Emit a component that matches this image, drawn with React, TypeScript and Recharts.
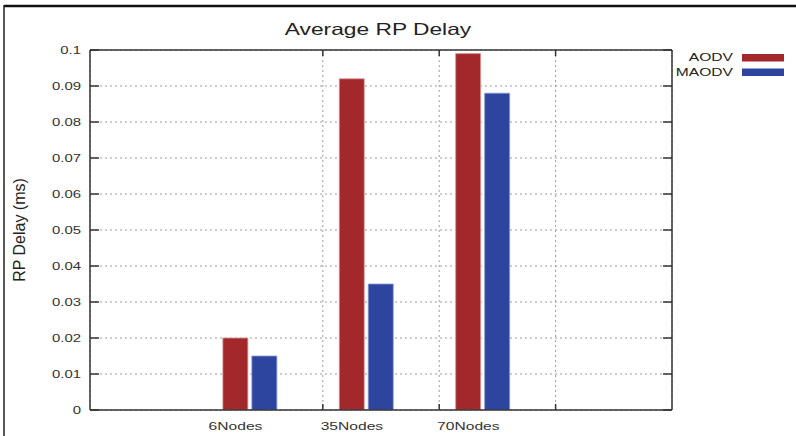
import React from "react";
import { BarChart, Bar, XAxis, YAxis, CartesianGrid, Legend } from "recharts";

// values
const categories = ["6Nodes", "35Nodes", "70Nodes"];
const groupPos = [1.375, 2.375, 3.375];
const labelPos = [1.25, 2.25, 3.25];
const aodv = [0.02, 0.092, 0.099];
const maodv = [0.015, 0.035, 0.088];
const yTicks = [0, 0.01, 0.02, 0.03, 0.04, 0.05, 0.06, 0.07, 0.08, 0.09, 0.1];
const xGridTicks = [2, 3, 4];

const series = [
  { key: "aodv", name: "AODV", color: "#a3282b", edge: "#d69a9b" },
  { key: "maodv", name: "MAODV", color: "#2e459f", edge: "#8a99d2" },
];

const data = categories.map((name, i) => ({
  name,
  x: groupPos[i],
  aodv: aodv[i],
  maodv: maodv[i],
}));

const STRETCH = 1.42;
const FONT = "'Liberation Sans', Arial, sans-serif";

function NoLabel() {
  return <g />;
}

function YTick(props: any) {
  const { x, y, payload } = props;
  return (
    <text
      transform={`translate(${x},${y}) scale(${STRETCH},1)`}
      textAnchor="end"
      dy="0.36em"
      fontSize={10.5}
      fontFamily={FONT}
      fill="#333"
    >
      {String(payload.value)}
    </text>
  );
}

function XLabel(props: any) {
  const { x, y, payload } = props;
  const idx = labelPos.indexOf(payload.value);
  return (
    <text
      transform={`translate(${x},${y + 19}) scale(${STRETCH},1)`}
      textAnchor="middle"
      fontSize={11}
      fontFamily={FONT}
      fill="#333"
    >
      {categories[idx]}
    </text>
  );
}

function LegendBox() {
  return (
    <svg width={136} height={40}>
      {series.map((s, i) => (
        <g key={s.key}>
          <text
            transform={`translate(73,${16 + i * 15}) scale(${STRETCH},1)`}
            textAnchor="end"
            fontSize={11}
            fontFamily={FONT}
            fill="#222"
          >
            {s.name}
          </text>
          <rect x={82} y={9 + i * 14.5} width={42} height={7.5} fill={s.color} />
        </g>
      ))}
    </svg>
  );
}

export default function App() {
  const axisStroke = { stroke: "#333", strokeWidth: 1.5 };
  return (
    <div style={{ position: "fixed", left: 0, top: 0, width: 796, height: 436, background: "#fff" }}>
      <BarChart
        width={796}
        height={436}
        data={data}
        margin={{ top: 49, right: 0, bottom: 0, left: 0 }}
        barSize={25}
        barGap={4}
      >
        <CartesianGrid strokeDasharray="2 3" stroke="#9a9a9a" />
        <XAxis
          dataKey="x"
          type="number"
          domain={[0, 5]}
          ticks={xGridTicks}
          allowDataOverflow
          interval={0}
          tick={<NoLabel />}
          tickSize={-6}
          height={1}
          axisLine={axisStroke}
          tickLine={axisStroke}
        />
        <XAxis
          xAxisId="lbl"
          dataKey="x"
          type="number"
          domain={[0, 5]}
          ticks={labelPos}
          allowDataOverflow
          interval={0}
          axisLine={false}
          tickLine={false}
          tickSize={0}
          tickMargin={0}
          height={25}
          tick={<XLabel />}
        />
        <XAxis
          xAxisId="top"
          orientation="top"
          dataKey="x"
          type="number"
          domain={[0, 5]}
          ticks={xGridTicks}
          allowDataOverflow
          interval={0}
          tick={<NoLabel />}
          tickSize={-6}
          height={1}
          axisLine={axisStroke}
          tickLine={axisStroke}
        />
        <YAxis
          width={90}
          domain={[0, 0.1]}
          ticks={yTicks}
          interval={0}
          allowDataOverflow
          tickSize={-9}
          tickMargin={18}
          axisLine={axisStroke}
          tickLine={axisStroke}
          tick={<YTick />}
        />
        <YAxis
          yAxisId="r"
          orientation="right"
          width={124}
          domain={[0, 0.1]}
          ticks={yTicks}
          interval={0}
          allowDataOverflow
          tick={<NoLabel />}
          tickSize={-9}
          axisLine={axisStroke}
          tickLine={axisStroke}
        />
        <Legend
          layout="horizontal"
          verticalAlign="middle"
          wrapperStyle={{ left: 660, top: 45, width: 136, height: 40 }}
          content={() => <LegendBox />}
        />
        {series.map((s) => (
          <Bar
            key={s.key}
            dataKey={s.key}
            name={s.name}
            fill={s.color}
            stroke={s.edge}
            strokeWidth={0.8}
            isAnimationActive={false}
          />
        ))}
      </BarChart>
      <svg
        width={796}
        height={436}
        style={{ position: "absolute", left: 0, top: 0, pointerEvents: "none" }}
      >
        <line x1={4} y1={6} x2={796} y2={6} stroke="#111" strokeWidth={2.5} />
        <line x1={4} y1={5} x2={4} y2={436} stroke="#222" strokeWidth={1.5} />
        <text
          transform={`translate(378,35) scale(1.38,1)`}
          textAnchor="middle"
          fontSize={16.5}
          fontFamily={FONT}
          fill="#222"
        >
          Average RP Delay
        </text>
        <text
          transform="translate(25,230) rotate(-90)"
          textAnchor="middle"
          fontSize={16}
          fontFamily={FONT}
          fill="#222"
        >
          RP Delay (ms)
        </text>
      </svg>
    </div>
  );
}
